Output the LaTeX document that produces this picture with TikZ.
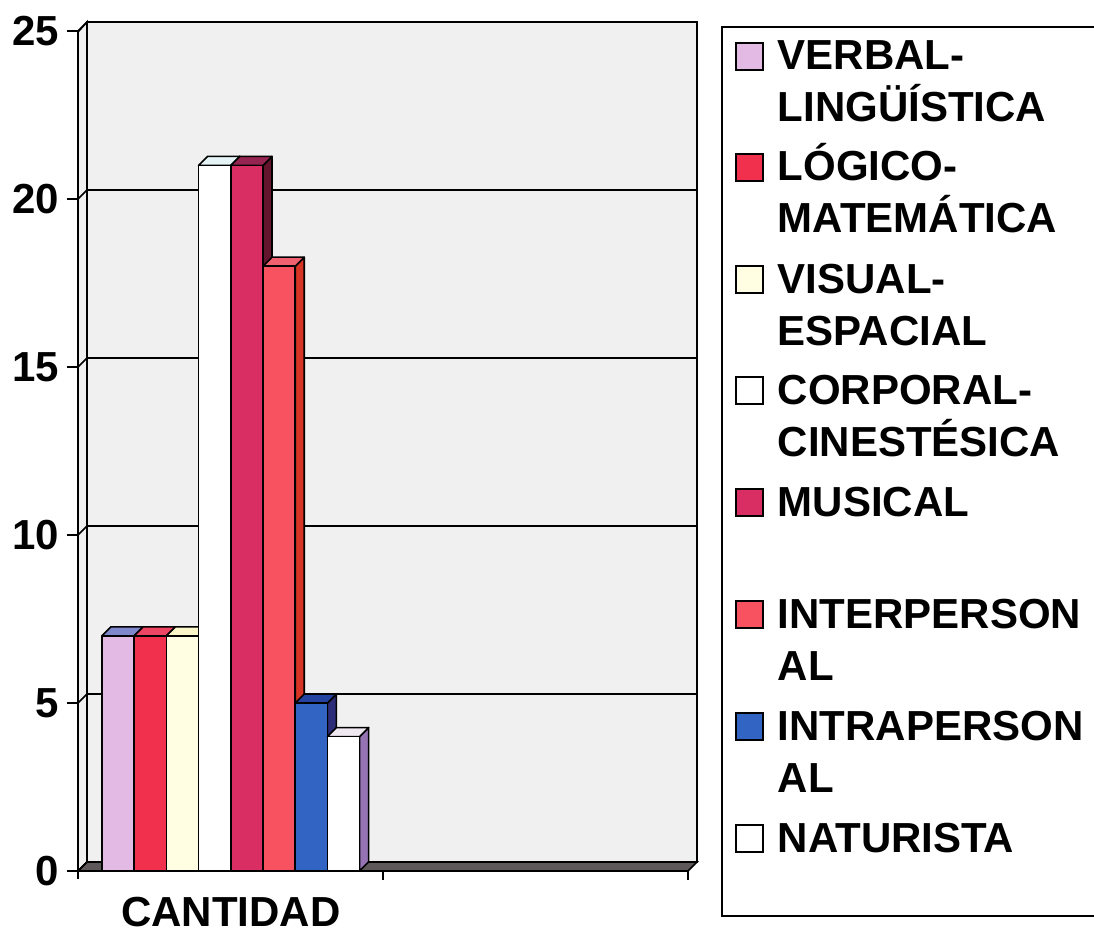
\documentclass[tikz,border=0pt]{standalone}
\usepackage{fontspec}
\setmainfont{Liberation Sans}
\usetikzlibrary{positioning}

% wall, floor and bar colours
\definecolor{wallgray}{RGB}{241,240,241}
\definecolor{floorgray}{RGB}{95,88,90}
\definecolor{frontverbal}{RGB}{226,186,228}
\definecolor{topverbal}{RGB}{128,136,204}
\definecolor{sideverbal}{RGB}{150,120,190}
\definecolor{frontlogico}{RGB}{240,48,76}
\definecolor{toplogico}{RGB}{236,70,100}
\definecolor{sidelogico}{RGB}{180,30,50}
\definecolor{frontvisual}{RGB}{255,253,226}
\definecolor{topvisual}{RGB}{250,246,200}
\definecolor{sidevisual}{RGB}{220,216,180}
\definecolor{frontcorp}{RGB}{255,255,255}
\definecolor{topcorp}{RGB}{228,244,246}
\definecolor{sidecorp}{RGB}{220,220,220}
\definecolor{frontmusic}{RGB}{216,46,100}
\definecolor{topmusic}{RGB}{150,36,80}
\definecolor{sidemusic}{RGB}{100,20,44}
\definecolor{frontinter}{RGB}{248,82,96}
\definecolor{topinter}{RGB}{240,96,110}
\definecolor{sideinter}{RGB}{214,52,36}
\definecolor{frontintra}{RGB}{50,100,196}
\definecolor{topintra}{RGB}{36,66,160}
\definecolor{sideintra}{RGB}{44,44,120}
\definecolor{frontnat}{RGB}{255,255,255}
\definecolor{topnat}{RGB}{240,232,240}
\definecolor{sidenat}{RGB}{150,116,180}

\tikzset{
  barline/.style={draw=black, line width=1.6pt, line join=round},
  axisline/.style={line width=1.8pt},
  ticklabel/.style={anchor=east, inner sep=0pt, font=\fontsize{42}{50}\selectfont\bfseries},
  legtext/.style={anchor=base west, inner sep=0pt, font=\fontsize{42}{50}\selectfont\bfseries},
  legkey/.style={draw=black, line width=1.6pt, minimum size=27pt, inner sep=0pt}
}

\begin{document}
\begin{tikzpicture}[x=1pt, y=-1pt, line width=1.6pt]

  \useasboundingbox (0,0) rectangle (1094,933);
  \clip (0,0) rectangle (1094,933);

  \begin{scope}

  % walls and floor
  \draw[fill=wallgray] (78,871) -- (78,32) -- (87,22) -- (87,862) -- cycle;
  \draw[fill=wallgray] (87,22) rectangle (697,862);
  \draw[fill=floorgray] (78,871) -- (87,862) -- (697,862) -- (688,871) -- cycle;

  % grid lines, ticks and labels
  \foreach \v in {0,5,...,25}{
    \pgfmathsetmacro{\yv}{871-33.6*\v}
    \draw (87,\yv-9) -- (697,\yv-9);
    \draw (78,\yv) -- (87,\yv-9);
    \draw[axisline] (67,\yv) -- (78,\yv);
    \node[ticklabel] (tick\v) at (60,\yv) {\v};
  }
  \draw[axisline] (78,32) -- (78,879);
  \draw[axisline] (67,871) -- (688,871);
  \foreach \xt in {383,688}
    \draw[axisline] (\xt,871) -- (\xt,880);

  % bars
  \foreach \i/\val/\col in {0/7/verbal,1/7/logico,2/7/visual,3/21/corp,4/21/music,5/18/inter,6/5/intra,7/4/nat}{
    \pgfmathsetmacro{\xl}{102+32.2*\i}
    \pgfmathsetmacro{\xr}{\xl+32.2}
    \pgfmathsetmacro{\yt}{871-33.6*\val}
    \draw[barline, fill=side\col] (\xr,\yt) -- ++(9,-9) -- (\xr+9,862) -- (\xr,871) -- cycle;
    \draw[barline, fill=top\col] (\xl,\yt) -- ++(9,-9) -- ++(32.2,0) -- (\xr,\yt) -- cycle;
    \draw[barline, fill=front\col] (\xl,871) rectangle (\xr,\yt);
  }

  \node[inner sep=0pt, anchor=base, font=\fontsize{42}{50}\selectfont\bfseries] (cantidad) at (231,926) {CANTIDAD};

  \end{scope}

  % legend
  \begin{scope}
  \draw (1110,27) -- (722,27) -- (722,916) -- (1110,916);
  \foreach \n/\yb/\col/\ta/\tb in {1/70/verbal/VERBAL-/LINGÜÍSTICA,
      2/181/logico/LÓGICO-/MATEMÁTICA, 3/293/visual/VISUAL-/ESPACIAL,
      4/404/corp/CORPORAL-/CINESTÉSICA, 5/516/music/MUSICAL/{},
      6/628/inter/INTERPERSON/AL, 7/740/intra/INTRAPERSON/AL, 8/852/nat/NATURISTA/{}}{
    \node[legkey, fill=front\col] (key\n) at (749.5,\yb-13.5) {};
    \node[legtext] (leg\n a) at (777,\yb) {\ta};
    \node[legtext] (leg\n b) at (777,\yb+52) {\tb};
  }
  \end{scope}

\end{tikzpicture}
\end{document}
